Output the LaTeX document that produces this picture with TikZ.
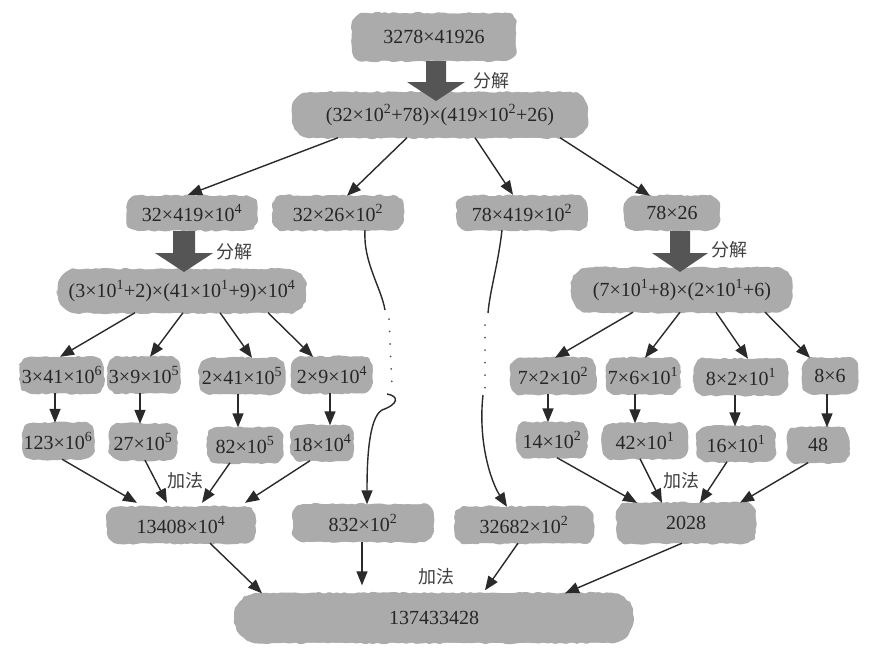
\documentclass[tikz,border=0pt]{standalone}
\usepackage{fontspec}
\setmainfont{Liberation Serif}
\newfontfamily\cjk{Noto Sans CJK SC}
\usetikzlibrary{arrows.meta,calc,decorations.pathmorphing}
\definecolor{blobgray}{HTML}{ABABAB}
\definecolor{bigarrow}{HTML}{555555}
\definecolor{linec}{HTML}{2A2A2A}
\newcommand\supx[1]{\textsuperscript{#1}}
\newcommand\bigdown[5]{% x, ytop, ytip, shaft half, head half
  \fill[bigarrow] (#1-#4,#2) -- (#1+#4,#2) -- (#1+#4,#3-19) -- (#1+#5,#3-19) -- (#1,#3)
    -- (#1-#5,#3-19) -- (#1-#4,#3-19) -- cycle;}
\pgfmathsetseed{7}
\begin{document}
\begin{tikzpicture}[x=1pt,y=-1pt,
  blob/.style args={#1/#2}{fill=blobgray, rounded corners=11pt, inner xsep=1pt, inner ysep=0pt,
    minimum width=#1pt, minimum height=#2pt, font=\fontsize{20}{22}\selectfont, text=black!85,
    postaction={draw=blobgray, fill=blobgray, line width=1.2pt, rounded corners=1pt, decorate,
      decoration={random steps, segment length=3.5pt, amplitude=1.1pt}}},
  conn/.style={draw=linec, line width=1.4pt, -{Triangle[length=14pt,width=11pt]}},
  plain/.style={draw=linec, line width=1.4pt},
  dots/.style={draw=linec!80, line width=2pt, line cap=round, dash pattern=on 0pt off 12.5pt},
  lab/.style={font=\cjk\fontsize{18}{20}\selectfont, text=black!75, inner sep=0pt},
]
\fill[white] (0,0) rectangle (879,654);
\useasboundingbox (0,0) rectangle (879,654);

% nodes
\node[blob=163/47] (top) at (434,37) {3278×41926};
\node[blob=295/45, rounded corners=18pt] (n2) at (440,115) {(32×10\supx{2}+78)×(419×10\supx{2}+26)};
\node[blob=130/34] (a1) at (192,213) {32×419×10\supx{4}};
\node[blob=130/34] (a2) at (338,213) {32×26×10\supx{2}};
\node[blob=130/34] (a3) at (522,213) {78×419×10\supx{2}};
\node[blob=95/34]  (a4) at (672,213) {78×26};
\node[blob=247/43, rounded corners=17pt] (L) at (182,291) {(3×10\supx{1}+2)×(41×10\supx{1}+9)×10\supx{4}};
\node[blob=220/44, rounded corners=17pt] (R) at (682,290) {(7×10\supx{1}+8)×(2×10\supx{1}+6)};

\node[blob=83/36] (l1) at (62,375) {3×41×10\supx{6}};
\node[blob=72/36] (l2) at (144,375) {3×9×10\supx{5}};
\node[blob=85/36] (l3) at (242,376) {2×41×10\supx{5}};
\node[blob=80/36] (l4) at (332,375) {2×9×10\supx{4}};
\node[blob=85/36] (r1) at (553,376) {7×2×10\supx{2}};
\node[blob=73/36] (r2) at (643,376) {7×6×10\supx{1}};
\node[blob=93/36] (r3) at (741,377) {8×2×10\supx{1}};
\node[blob=55/36] (r4) at (830,376) {8×6};

\node[blob=67/36] (l5) at (58,441) {123×10\supx{6}};
\node[blob=67/36] (l6) at (143,442) {27×10\supx{5}};
\node[blob=75/35] (l7) at (245,445) {82×10\supx{5}};
\node[blob=62/35] (l8) at (322,443) {18×10\supx{4}};
\node[blob=70/35] (r5) at (552,440) {14×10\supx{2}};
\node[blob=85/35] (r6) at (645,441) {42×10\supx{1}};
\node[blob=78/35] (r7) at (736,444) {16×10\supx{1}};
\node[blob=61/35] (r8) at (818,445) {48};

\node[blob=148/36] (s1) at (181,525) {13408×10\supx{4}};
\node[blob=140/37] (s2) at (363,523) {832×10\supx{2}};
\node[blob=138/36] (s3) at (524,525) {32682×10\supx{2}};
\node[blob=138/40] (s4) at (686,523) {2028};

\node[blob=398/49, rounded corners=23pt] (fin) at (434,618) {137433428};

% big arrows
\bigdown{436}{61}{101}{10}{29}
\bigdown{184}{231}{272}{11}{29}
\bigdown{680}{231}{272}{10}{28}
\node[lab] (f1) at (491,81) {分解};
\node[lab] (f2) at (234,252) {分解};
\node[lab] (f3) at (729,250) {分解};

% n2 -> row a
\draw[conn] ($(n2.south)+(-102,0)$) -- ($(a1.north)+(-4,-1)$);
\draw[conn] ($(n2.south)+(-33,0)$) -- ($(a2.north)+(9,0)$);
\draw[conn] ($(n2.south)+(35,0)$) -- ($(a3.north)+(-9,-1)$);
\draw[conn] ($(n2.south)+(120,0)$) -- ($(a4.north)+(-22,0)$);

% L -> row
\draw[conn] ($(L.south)+(-47,0)$) -- ($(l1.north)+(-2,0)$);
\draw[conn] ($(L.south)+(1,0)$) -- ($(l2.north)+(6,0)$);
\draw[conn] ($(L.south)+(38,0)$) -- ($(l3.north)+(10,0)$);
\draw[conn] ($(L.south)+(86,0)$) -- ($(l4.north)+(-19,0)$);
% R -> row
\draw[conn] ($(R.south)+(-49,0)$) -- ($(r1.north)+(2,0)$);
\draw[conn] ($(R.south)+(-2,0)$) -- ($(r2.north)+(2,0)$);
\draw[conn] ($(R.south)+(34,0)$) -- ($(r3.north)+(7,0)$);
\draw[conn] ($(R.south)+(83,0)$) -- ($(r4.north)+(-20,0)$);

% verticals
\draw[conn] ($(l1.south)+(-7,0)$) -- ($(l5.north)+(-3,0)$);
\draw[conn] ($(l2.south)+(-4,0)$) -- ($(l6.north)+(-3,0)$);
\draw[conn] ($(l3.south)+(-4,0)$) -- ($(l7.north)+(-7,0)$);
\draw[conn] ($(l4.south)+(-2,0)$) -- ($(l8.north)+(8,0)$);
\draw[conn] ($(r1.south)+(-5,0)$) -- ($(r5.north)+(-4,0)$);
\draw[conn] ($(r2.south)+(-8,0)$) -- ($(r6.north)+(-10,0)$);
\draw[conn] ($(r3.south)+(-6,0)$) -- ($(r7.north)+(-1,0)$);
\draw[conn] ($(r4.south)+(-3,0)$) -- ($(r8.north)+(9,0)$);

% row6 -> sums
\draw[conn] ($(l5.south)+(4,0)$) -- ($(s1.north)+(-44,-4)$);
\draw[conn] ($(l6.south)+(2,0)$) -- ($(s1.north)+(-14,-4)$);
\draw[conn] ($(l7.south)+(-15,0)$) -- ($(s1.north)+(21,-4)$);
\draw[conn] ($(l8.south)+(-12,0)$) -- ($(s1.north)+(64,-4)$);
\draw[conn] ($(r5.south)+(5,0)$) -- ($(s4.north)+(-49,0)$);
\draw[conn] ($(r6.south)+(-5,0)$) -- ($(s4.north)+(-24,0)$);
\draw[conn] ($(r7.south)+(-9,0)$) -- ($(s4.north)+(14,0)$);
\draw[conn] ($(r8.south)+(-10,0)$) -- ($(s4.north)+(54,0)$);
\node[lab] (j1) at (185,481) {加法};
\node[lab] (j2) at (681,481) {加法};

% sums -> final
\draw[conn] ($(s1.south)+(29,0)$) -- ($(fin.north)+(-172,0)$);
\draw[conn] ($(s2.south)+(-1,0)$) -- ($(fin.north)+(-72,-8)$);
\draw[conn] ($(s3.south)+(-6,0)$) -- ($(fin.north)+(51,-3)$);
\draw[conn] ($(s4.south)+(-4,0)$) -- ($(fin.north)+(131,0)$);
\node[lab] (j3) at (436,577) {加法};

% elided paths
\coordinate (d1) at (385,310);
\coordinate (d2) at (389,319);
\coordinate (d3) at (392,386);
\coordinate (h1) at (387,394);
\draw[plain] ($(a2.south)+(27,0)$) .. controls (363,262) and (381,287) .. (d1);
\draw[dots] (d2) -- (d3);
\draw[conn] (h1) .. controls (399,396) and (399,404) .. (382,410)
  .. controls (368,418) and (367,465) .. ($(s2.north)+(4,0)$);

\coordinate (e1) at (488,313);
\coordinate (e2) at (485,325);
\coordinate (e3) at (485,388);
\coordinate (e4) at (483,395);
\draw[plain] ($(a3.south)+(-20,0)$) .. controls (498,265) and (490,290) .. (e1);
\draw[dots] (e2) -- (e3);
\draw[conn] (e4) .. controls (478,440) and (490,480) .. ($(s3.north)+(-17,0)$);
\end{tikzpicture}
\end{document}
